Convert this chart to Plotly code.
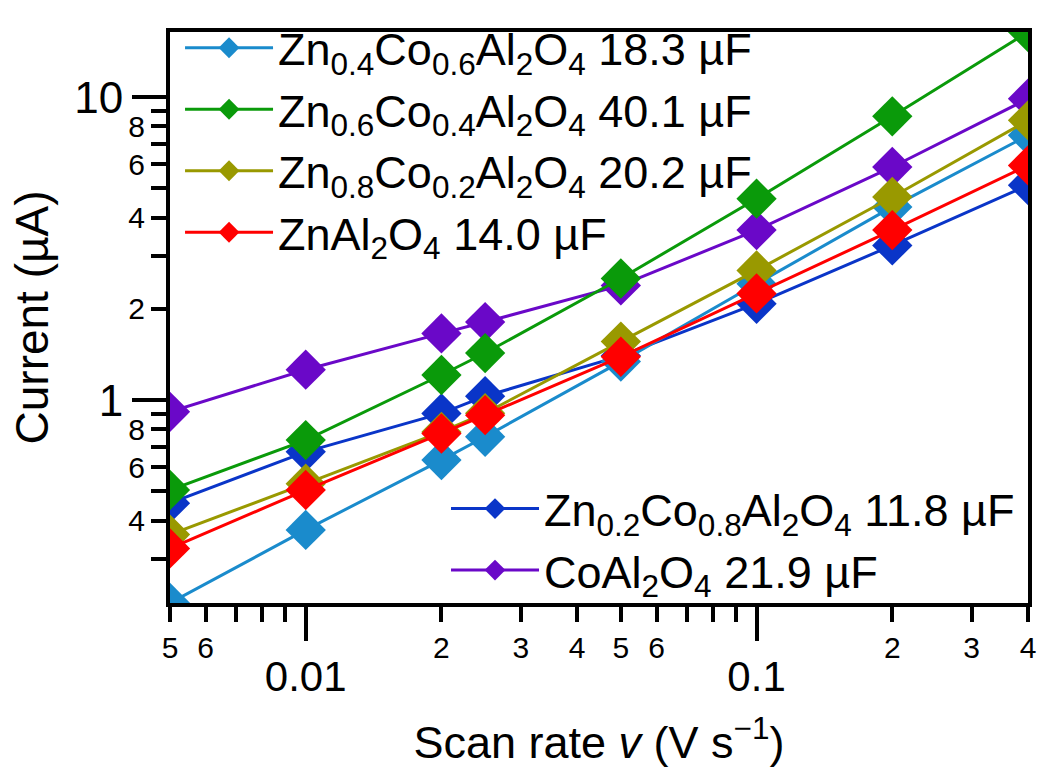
import plotly.graph_objects as go
import math

# ---------------- data ----------------
scan_rate = [0.005, 0.01, 0.02, 0.025, 0.05, 0.1, 0.2, 0.4]

names = {
    "zn04": "Zn<sub>0.4</sub>Co<sub>0.6</sub>Al<sub>2</sub>O<sub>4</sub> 18.3 µF",
    "zn06": "Zn<sub>0.6</sub>Co<sub>0.4</sub>Al<sub>2</sub>O<sub>4</sub> 40.1 µF",
    "zn08": "Zn<sub>0.8</sub>Co<sub>0.2</sub>Al<sub>2</sub>O<sub>4</sub> 20.2 µF",
    "znal": "ZnAl<sub>2</sub>O<sub>4</sub> 14.0 µF",
    "zn02": "Zn<sub>0.2</sub>Co<sub>0.8</sub>Al<sub>2</sub>O<sub>4</sub> 11.8 µF",
    "coal": "CoAl<sub>2</sub>O<sub>4</sub> 21.9 µF",
}

cur_zn04 = [0.214, 0.373, 0.634, 0.757, 1.34, 2.42, 4.34, 7.48]
cur_zn06 = [0.505, 0.738, 1.21, 1.43, 2.52, 4.62, 8.64, 16.4]
cur_zn08 = [0.36, 0.53, 0.785, 0.905, 1.56, 2.68, 4.68, 8.38]
cur_znal = [0.324, 0.505, 0.776, 0.892, 1.39, 2.25, 3.64, 5.95]
cur_zn02 = [0.457, 0.675, 0.904, 1.03, 1.40, 2.08, 3.24, 5.12]
cur_coal = [0.915, 1.26, 1.66, 1.81, 2.39, 3.64, 5.88, 9.88]

x_major_vals = [0.01, 0.1]
x_major_text = ["0.01", "0.1"]
x_minor_vals = [0.005, 0.006, 0.007, 0.008, 0.009,
                0.02, 0.03, 0.04, 0.05, 0.06, 0.07, 0.08, 0.09,
                0.2, 0.3, 0.4]
x_minor_text = ["5", "6", "", "", "",
                "2", "3", "4", "5", "6", "", "", "",
                "2", "3", "4"]

y_major_vals = [1, 10]
y_major_text = ["1", "10"]
y_minor_vals = [0.3, 0.4, 0.5, 0.6, 0.7, 0.8, 0.9,
                2, 3, 4, 5, 6, 7, 8, 9]
y_minor_text = ["", "4", "", "6", "", "8", "",
                "2", "", "4", "", "6", "", "8", ""]

colors = {
    "zn04": "#1a8bcc",
    "zn06": "#0a9a0a",
    "zn08": "#999900",
    "znal": "#ff0000",
    "zn02": "#0a35c8",
    "coal": "#6a08c8",
}

series = {
    "zn04": cur_zn04, "zn06": cur_zn06, "zn08": cur_zn08,
    "znal": cur_znal, "zn02": cur_zn02, "coal": cur_coal,
}
# drawing order (bottom -> top) and legend assignment
draw_order = ["coal", "zn02", "zn04", "zn08", "znal", "zn06"]
legend_of = {"zn04": ("legend", 1), "zn06": ("legend", 2), "zn08": ("legend", 3),
             "znal": ("legend", 4), "zn02": ("legend2", 1), "coal": ("legend2", 2)}

FONT = "Liberation Sans, Arial, sans-serif"

fig = go.Figure()
for key in draw_order:
    leg, rank = legend_of[key]
    on_top = key == draw_order[-1]
    fig.add_trace(go.Scatter(
        x=scan_rate, y=series[key], name=names[key],
        mode="lines+markers",
        line=dict(color=colors[key], width=3),
        marker=dict(symbol="diamond", size=31, color=colors[key], line=dict(width=0)),
        legend=leg, legendrank=rank,
        # the top-most series lives on the overlay axes (same ranges), which
        # also carry the minor tick labels
        xaxis="x2" if on_top else "x", yaxis="y2" if on_top else "y",
    ))

xr = [math.log10(0.005), math.log10(0.4)]
yr = [math.log10(min(cur_zn04)), math.log10(max(cur_zn06))]

LEG_FONT = 45
MINOR_FONT = 30

fig.update_layout(
    width=1049, height=776,
    margin=dict(l=170, r=21, t=32, b=173),
    paper_bgcolor="white", plot_bgcolor="white",
    font=dict(family=FONT, color="black"),
    showlegend=True,
    legend=dict(x=0.0117, y=1.035, xanchor="left", yanchor="top",
                bgcolor="rgba(0,0,0,0)", font=dict(size=LEG_FONT, family=FONT),
                itemwidth=88, tracegroupgap=0),
    legend2=dict(x=0.3217, y=-0.005, xanchor="left", yanchor="bottom",
                 bgcolor="rgba(0,0,0,0)", font=dict(size=LEG_FONT, family=FONT),
                 itemwidth=88, tracegroupgap=0),
    xaxis=dict(type="log", range=xr, showgrid=False, zeroline=False,
               showline=True, linecolor="black", linewidth=4, mirror=True,
               tickmode="array", tickvals=x_major_vals, ticktext=x_major_text,
               ticks="outside", ticklen=34, tickwidth=4, tickcolor="black",
               tickfont=dict(size=42, family=FONT), ticklabelstandoff=0,
               title=dict(text="Scan rate <i>v</i> (V s<sup>−1</sup>)",
                          font=dict(size=45, family=FONT), standoff=28)),
    xaxis2=dict(type="log", range=xr, overlaying="x", anchor="y", side="bottom",
                showgrid=False, zeroline=False, showline=False,
                tickmode="array", tickvals=x_minor_vals, ticktext=x_minor_text,
                ticks="outside", ticklen=18, tickwidth=4, tickcolor="black",
                tickfont=dict(size=MINOR_FONT, family=FONT)),
    yaxis=dict(type="log", range=yr, showgrid=False, zeroline=False,
               showline=True, linecolor="black", linewidth=4, mirror=True,
               tickmode="array", tickvals=y_major_vals, ticktext=y_major_text,
               ticks="outside", ticklen=34, tickwidth=4, tickcolor="black",
               tickfont=dict(size=44, family=FONT),
               title=dict(text="Current (µA)", font=dict(size=46, family=FONT),
                          standoff=12)),
    yaxis2=dict(type="log", range=yr, overlaying="y", anchor="x", side="left",
                showgrid=False, zeroline=False, showline=False,
                tickmode="array", tickvals=y_minor_vals, ticktext=y_minor_text,
                ticks="outside", ticklen=18, tickwidth=4, tickcolor="black",
                tickfont=dict(size=MINOR_FONT, family=FONT)),
)

fig.write_html("out.html")
